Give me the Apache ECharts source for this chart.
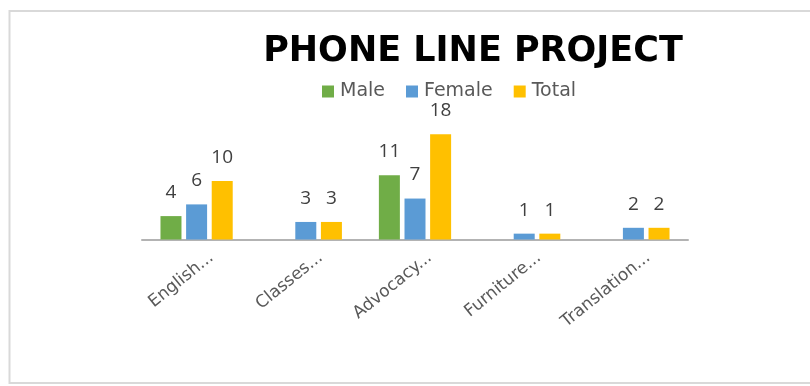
<!DOCTYPE html>
<html>
<head>
<meta charset="utf-8">
<script src="https://cdn.jsdelivr.net/npm/echarts@6/dist/echarts.min.js"></script>
<style>
  html, body { margin: 0; padding: 0; background: #ffffff; }
  #chart { width: 810px; height: 386px; }
</style>
</head>
<body>
<div id="chart"></div>
<script>
// Phone line project: counts per service by gender
const categories = ['English...', 'Classes...', 'Advocacy...', 'Furniture...', 'Translation...'];
const maleValues = [4, null, 11, null, null];
const femaleValues = [6, 3, 7, 1, 2];
const totalValues = [10, 3, 18, 1, 2];
const seriesNames = ['Male', 'Female', 'Total'];
const seriesColors = ['#70ad47', '#5b9bd5', '#ffc000'];

const chart = echarts.init(document.getElementById('chart'), null, { renderer: 'canvas' });

const labelStyle = {
  show: true,
  position: 'top',
  distance: 14,
  fontFamily: 'Open Sans',
  fontSize: 19,
  color: '#404040'
};

function barSeries(name, data, color) {
  return {
    name: name,
    type: 'bar',
    data: data,
    barWidth: 21,
    barGap: '22%',
    itemStyle: { color: color },
    label: labelStyle
  };
}

chart.setOption({
  animation: false,
  backgroundColor: '#ffffff',
  color: seriesColors,
  title: {
    text: 'PHONE LINE PROJECT',
    left: 468,
    top: 29,
    textAlign: 'center',
    textStyle: {
      fontFamily: 'DejaVu Sans',
      fontWeight: 'bold',
      fontSize: 35,
      color: '#000000'
    }
  },
  legend: {
    data: seriesNames,
    left: 317,
    top: 77,
    icon: 'rect',
    itemWidth: 12,
    itemHeight: 12,
    itemGap: 21,
    textStyle: {
      fontFamily: 'DejaVu Sans',
      fontSize: 19,
      color: '#595959',
      padding: [0, 0, 0, 1]
    }
  },
  graphic: [{
    type: 'rect',
    shape: { x: 9.5, y: 11, width: 820, height: 372 },
    style: { fill: 'none', stroke: '#d9d9d9', lineWidth: 2 },
    silent: true
  }],
  grid: {
    left: 142,
    right: 122,
    top: 122.5,
    bottom: 146.5
  },
  xAxis: {
    type: 'category',
    data: categories,
    axisLine: { show: true, lineStyle: { color: '#b3b3b3', width: 2 } },
    axisTick: { show: false },
    axisLabel: {
      interval: 0,
      rotate: 39,
      margin: 28,
      padding: [0, -19, 0, 0],
      fontFamily: 'DejaVu Sans',
      fontSize: 17,
      color: '#595959'
    }
  },
  yAxis: {
    type: 'value',
    min: 0,
    max: 20,
    interval: 5,
    show: false,
    splitLine: { show: false }
  },
  series: [
    barSeries(seriesNames[0], maleValues, seriesColors[0]),
    barSeries(seriesNames[1], femaleValues, seriesColors[1]),
    barSeries(seriesNames[2], totalValues, seriesColors[2])
  ]
});
</script>
</body>
</html>
